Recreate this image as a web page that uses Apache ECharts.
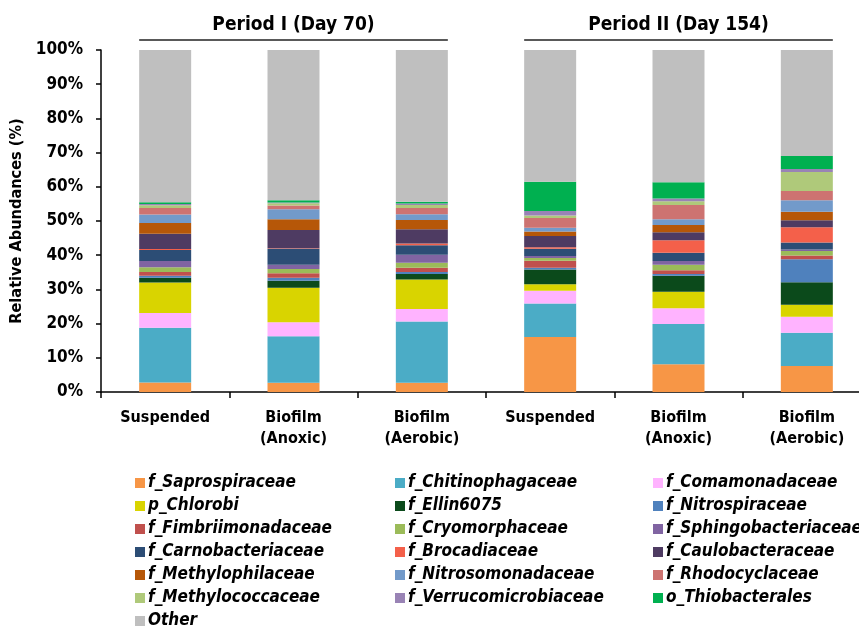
<!DOCTYPE html>
<html>
<head>
<meta charset="utf-8">
<script src="https://cdn.jsdelivr.net/npm/echarts@6/dist/echarts.min.js"></script>
<style>
html,body{margin:0;padding:0;background:#fff;overflow:hidden;}
#chart{width:880px;height:626px;}
</style>
</head>
<body>
<div id="chart"></div>
<script>
var categories = ['Suspended', 'Biofilm\n(Anoxic)', 'Biofilm\n(Aerobic)', 'Suspended', 'Biofilm\n(Anoxic)', 'Biofilm\n(Aerobic)'];
var periods = ['Period I (Day 70)', 'Period II (Day 154)'];
var yTickLabels = ['0%', '10%', '20%', '30%', '40%', '50%', '60%', '70%', '80%', '90%', '100%'];

var seriesNames = ['f_Saprospiraceae', 'f_Chitinophagaceae', 'f_Comamonadaceae', 'p_Chlorobi', 'f_Ellin6075',
  'f_Nitrospiraceae', 'f_Fimbriimonadaceae', 'f_Cryomorphaceae', 'f_Sphingobacteriaceae', 'f_Carnobacteriaceae',
  'f_Brocadiaceae', 'f_Caulobacteraceae', 'f_Methylophilaceae', 'f_Nitrosomonadaceae', 'f_Rhodocyclaceae',
  'f_Methylococcaceae', 'f_Verrucomicrobiaceae', 'o_Thiobacterales', 'Other'];

var saprospiraceae      = [2.8, 2.7, 2.7, 16.1, 8.1, 7.6];
var chitinophagaceae    = [16.0, 13.6, 17.9, 9.8, 11.8, 9.7];
var comamonadaceae      = [4.3, 4.1, 3.7, 3.7, 4.6, 4.7];
var chlorobi            = [8.9, 10.1, 8.6, 1.9, 4.8, 3.5];
var ellin6075           = [1.4, 2.0, 1.6, 4.3, 4.7, 6.6];
var nitrospiraceae      = [0.6, 0.9, 0.6, 0.5, 0.5, 6.7];
var fimbriimonadaceae   = [1.1, 1.3, 1.2, 2.1, 1.1, 1.1];
var cryomorphaceae      = [1.4, 1.3, 1.5, 0.8, 1.6, 1.3];
var sphingobacteriaceae = [1.8, 1.2, 2.3, 0.6, 1.1, 0.5];
var carnobacteriaceae   = [3.2, 4.7, 2.8, 2.1, 2.4, 2.0];
var brocadiaceae        = [0.3, 0.1, 0.5, 0.4, 3.7, 4.5];
var caulobacteraceae    = [4.5, 5.4, 4.2, 3.3, 2.3, 2.0];
var methylophilaceae    = [3.1, 3.1, 2.7, 1.3, 2.1, 2.5];
var nitrosomonadaceae   = [2.5, 2.9, 1.7, 1.1, 1.7, 3.4];
var rhodocyclaceae      = [1.9, 1.1, 1.8, 2.9, 4.2, 2.7];
var methylococcaceae    = [0.8, 0.7, 0.9, 0.7, 1.1, 5.5];
var verrucomicrobiaceae = [0.4, 0.2, 0.4, 1.3, 0.8, 0.9];
var thiobacterales      = [0.5, 0.7, 0.5, 8.6, 4.7, 3.8];
var other               = [44.5, 43.9, 44.4, 38.5, 38.7, 31.0];

var seriesValues = [saprospiraceae, chitinophagaceae, comamonadaceae, chlorobi, ellin6075, nitrospiraceae,
  fimbriimonadaceae, cryomorphaceae, sphingobacteriaceae, carnobacteriaceae, brocadiaceae, caulobacteraceae,
  methylophilaceae, nitrosomonadaceae, rhodocyclaceae, methylococcaceae, verrucomicrobiaceae, thiobacterales, other];

var colors = ['#F79646', '#4BACC6', '#FFB3FF', '#D9D400', '#0B4A1B', '#4F81BD', '#C0504D', '#9BBB59', '#8064A2',
  '#2C4D75', '#F4604A', '#4E3B62', '#B65708', '#729ACA', '#CD7371', '#AFC97A', '#9983B5', '#00B050', '#BFBFBF'];

var FONT = "'Liberation Sans Narrow', 'DejaVu Sans Condensed', 'Liberation Sans', sans-serif";
var BAR_W = 52;
var LEG_TOP = 474, LEG_ROW = 23, LEG_FS = 17;

var chart = echarts.init(document.getElementById('chart'), null, {renderer: 'canvas'});

var series = seriesNames.map(function (n, i) {
  return {
    name: n, type: 'bar', stack: 'total', barWidth: BAR_W,
    itemStyle: {color: colors[i]},
    emphasis: {disabled: true},
    data: seriesValues[i]
  };
});

function legendCol(names, left, top) {
  return {
    orient: 'vertical', left: left, top: top,
    data: names, selectedMode: false, padding: 0,
    icon: 'rect', itemWidth: 10, itemHeight: 10, itemGap: LEG_ROW - LEG_FS,
    textStyle: {fontFamily: FONT, fontSize: LEG_FS, fontWeight: 'bold', fontStyle: 'italic', color: '#000', lineHeight: LEG_FS, padding: [0, 0, 0, -2]}
  };
}
var col1 = [], col2 = [], col3 = [];
seriesNames.slice(0, 18).forEach(function (n, i) { [col1, col2, col3][i % 3].push(n); });

chart.setOption({
  animation: false,
  color: colors,
  textStyle: {fontFamily: FONT},
  grid: {left: 101, top: 50, width: 770, height: 342, containLabel: false},
  legend: [
    legendCol(col1, 135, LEG_TOP + 0.5),
    legendCol(col2, 395, LEG_TOP + 0.5),
    legendCol(col3, 653, LEG_TOP + 0.5),
    legendCol(['Other'], 135, LEG_TOP + 0.5 + 6 * LEG_ROW)
  ],
  xAxis: {
    type: 'category', data: categories, boundaryGap: true,
    axisLine: {lineStyle: {color: '#000', width: 1.5}},
    axisTick: {show: true, alignWithLabel: false, length: 6, inside: false, lineStyle: {color: '#000', width: 1.5}},
    axisLabel: {fontFamily: FONT, fontSize: 16, fontWeight: 'bold', color: '#000', margin: 15, lineHeight: 21, interval: 0}
  },
  yAxis: {
    type: 'value', min: 0, max: 100, interval: 10,
    name: 'Relative Abundances (%)', nameLocation: 'middle', nameGap: 74, nameRotate: 90,
    nameTextStyle: {fontFamily: FONT, fontSize: 16.2, fontWeight: 'bold', color: '#000'},
    axisLine: {show: true, lineStyle: {color: '#000', width: 1.5}},
    axisTick: {show: true, length: 5, lineStyle: {color: '#000', width: 1.5}},
    splitLine: {show: false},
    axisLabel: {fontFamily: FONT, fontSize: 17, fontWeight: 'bold', color: '#000', margin: 18,
      formatter: function (v) { return yTickLabels[Math.round(v / 10)]; }}
  },
  series: series
});

// Period headers positioned from the category axis
var graphics = [];
[[0, 2], [3, 5]].forEach(function (g, k) {
  var x0 = chart.convertToPixel({xAxisIndex: 0}, g[0]) - BAR_W / 2;
  var x1 = chart.convertToPixel({xAxisIndex: 0}, g[1]) + BAR_W / 2;
  var xm = chart.convertToPixel({xAxisIndex: 0}, (g[0] + g[1]) / 2);
  graphics.push({type: 'line', shape: {x1: x0, y1: 40, x2: x1, y2: 40}, style: {stroke: '#222', lineWidth: 1.5}, silent: true});
  graphics.push({type: 'text', x: xm, y: 25, style: {text: periods[k], fill: '#000', font: 'bold 19px ' + FONT, textAlign: 'center', textVerticalAlign: 'middle'}, silent: true});
});
chart.setOption({graphic: graphics});
</script>
</body>
</html>
